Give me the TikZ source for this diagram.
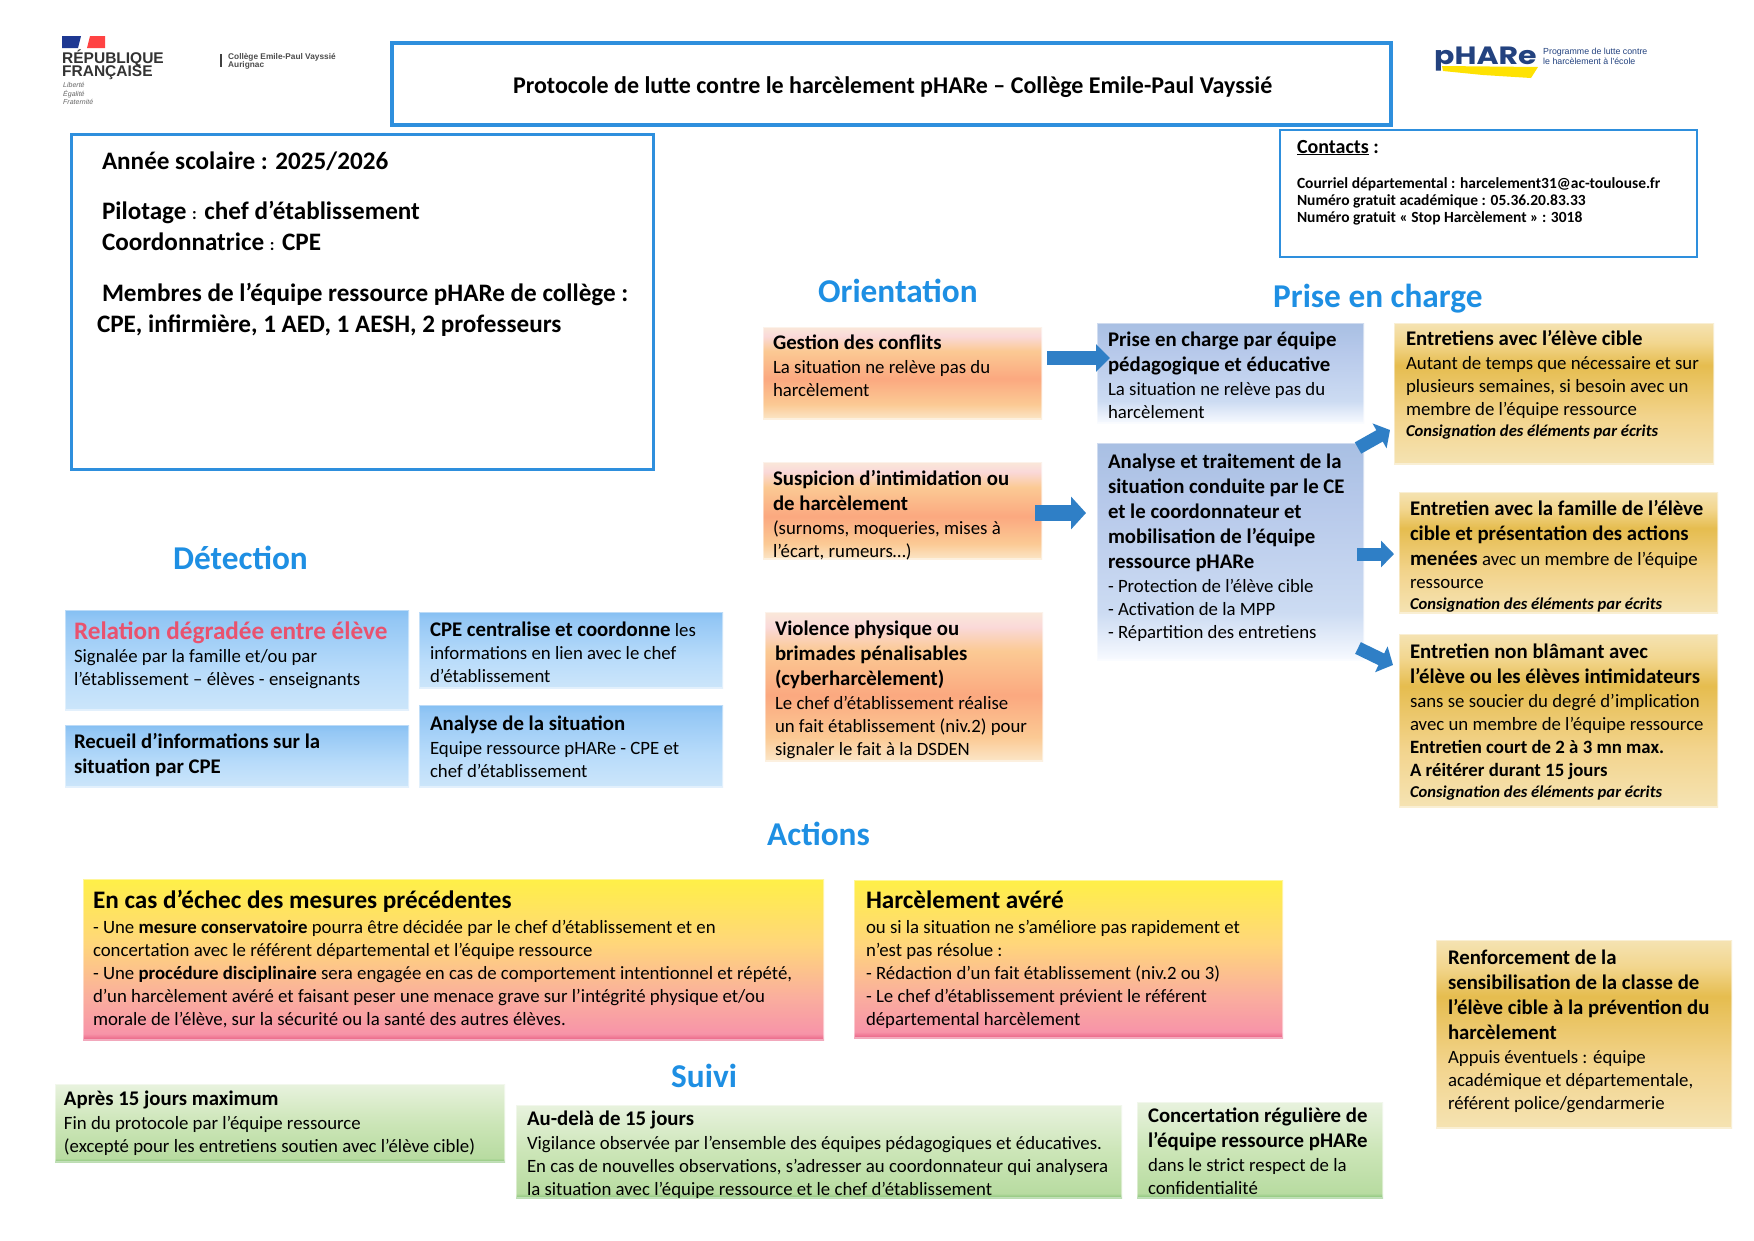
\documentclass[tikz,border=0pt]{standalone}
\usepackage{fontspec}
\setmainfont{Carlito}
\newfontfamily\lib{Liberation Sans}
\newfontfamily\pop{Poppins}
\usetikzlibrary{arrows.meta}
\definecolor{bdblue}{HTML}{2E8FDD}
\definecolor{sect}{HTML}{1E8FE3}
\definecolor{arrowblue}{HTML}{2F7FC6}
\definecolor{navy}{HTML}{23427F}
\definecolor{relred}{HTML}{E9526E}
\pgfdeclareverticalshading{orangeS}{100bp}{
 color(0bp)=(white);
 rgb(25bp)=(0.985,0.90,0.78);
 rgb(33bp)=(0.985,0.79,0.58);
 rgb(47bp)=(0.985,0.66,0.50);
 rgb(62bp)=(0.985,0.79,0.58);
 rgb(70bp)=(0.98,0.85,0.85);
 rgb(75bp)=(0.98,0.91,0.85);
 rgb(100bp)=(0.98,0.91,0.85)}
\pgfdeclareverticalshading{blueS}{100bp}{
 rgb(0bp)=(0.80,0.90,0.98);
 rgb(25bp)=(0.80,0.90,0.98);
 rgb(45bp)=(0.72,0.86,0.98);
 rgb(70bp)=(0.58,0.78,0.96);
 rgb(75bp)=(0.52,0.75,0.95);
 rgb(100bp)=(0.52,0.75,0.95)}
\pgfdeclareverticalshading{periS}{100bp}{
 rgb(0bp)=(1,1,1);
 rgb(25bp)=(0.97,0.98,1);
 rgb(36bp)=(0.80,0.86,0.95);
 rgb(60bp)=(0.72,0.79,0.92);
 rgb(75bp)=(0.66,0.75,0.89);
 rgb(100bp)=(0.66,0.75,0.89)}
\pgfdeclareverticalshading{goldS}{100bp}{
 rgb(0bp)=(0.96,0.89,0.70);
 rgb(25bp)=(0.96,0.89,0.70);
 rgb(42bp)=(0.95,0.83,0.55);
 rgb(60bp)=(0.90,0.74,0.31);
 rgb(68bp)=(0.95,0.84,0.56);
 rgb(75bp)=(0.96,0.89,0.70);
 rgb(100bp)=(0.96,0.89,0.70)}
\pgfdeclareverticalshading{alertS}{100bp}{
 rgb(0bp)=(0.91,0.38,0.52);
 rgb(25bp)=(0.91,0.38,0.52);
 rgb(27bp)=(0.97,0.58,0.66);
 rgb(38bp)=(0.98,0.68,0.62);
 rgb(55bp)=(1,0.84,0.48);
 rgb(75bp)=(1,0.94,0.28);
 rgb(100bp)=(1,0.94,0.28)}
\pgfdeclareverticalshading{greenS}{100bp}{
 rgb(0bp)=(0.52,0.76,0.46);
 rgb(25bp)=(0.52,0.76,0.46);
 rgb(27.5bp)=(0.72,0.86,0.63);
 rgb(50bp)=(0.80,0.90,0.72);
 rgb(75bp)=(0.91,0.95,0.87);
 rgb(100bp)=(0.91,0.95,0.87)}
\newcommand\hdsz{\fontsize{20.8}{25.2}\selectfont\bfseries}
\newcommand\txsz{\fontsize{18.8}{23}\selectfont\mdseries}
\newcommand\hd[1]{{\hdsz #1\par}\vspace{1pt}}
\newcommand\tx[1]{{\txsz #1\par}}
\newcommand\cns[1]{{\fontsize{16.6}{21}\selectfont\bfseries\itshape #1\par}}
\newcommand\bigh[1]{{\fontsize{25.2}{25}\selectfont\bfseries #1\par}\vspace{2pt}}
% name, style, x1, y1, x2, y2, left pad, first baseline, content
\newcommand\gbox[9]{%
 \pgfmathsetmacro\bw{#5-#3}\pgfmathsetmacro\bh{#6-#4}%
 \node[#2,anchor=north west,inner sep=0pt,outer sep=0pt] (#1) at (#3,#4) {%
  \parbox[c][\bh pt][t]{\bw pt}{\raggedright\leftskip=#7pt\parindent=0pt\def\FL{\rule{0pt}{#8pt}}#9}};}
\tikzset{
 soft/.style={draw=white,draw opacity=.45,line width=2pt},
 orangebox/.style={soft,shading=orangeS},
 bluebox/.style={soft,shading=blueS},
 peribox/.style={soft,shading=periS},
 goldbox/.style={soft,shading=goldS},
 alertbox/.style={soft,shading=alertS},
 greenbox/.style={soft,shading=greenS},
 framea/.style={draw=bdblue,line width=3.6pt},
 frameb/.style={draw=bdblue,line width=3pt},
 framec/.style={draw=bdblue,line width=2pt},
 secttitle/.style={anchor=base west,inner sep=0pt,text=sect,font=\fontsize{33.3}{38}\selectfont\bfseries},
 blockarrow/.style={arrowblue,line width=#1},
 blockarrow/.default=14pt,
 logotext/.style={anchor=base west,inner sep=0pt,align=left},
}
\begin{document}
\begin{tikzpicture}[x=1pt,y=-1pt]
\useasboundingbox (0,0) rectangle (1754,1240);
\fill[white] (0,0) rectangle (1754,1240);
% logo RF
\fill[navy!85!blue] (62,36) -- (81,36) -- (78,48) -- (62,48) -- cycle;
\fill[red!65!pink] (90,36) -- (105,36) -- (105,48) -- (87,48) -- cycle;
\node[logotext,font=\lib\fontsize{15.5}{15}\selectfont\bfseries,text=black!80] (rf1) at (62,63) {RÉPUBLIQUE};
\node[logotext,font=\lib\fontsize{15.5}{15}\selectfont\bfseries,text=black!80] (rf2) at (62,76) {FRANÇAISE};
\node[logotext,font=\lib\fontsize{7}{7}\selectfont\itshape,text=black!60] (rf3) at (63,87) {Liberté};
\node[logotext,font=\lib\fontsize{7}{7}\selectfont\itshape,text=black!60] (rf4) at (63,96) {Égalité};
\node[logotext,font=\lib\fontsize{7}{7}\selectfont\itshape,text=black!60] (rf5) at (63,104) {Fraternité};
\draw[black!75,line width=1.2pt] (221,54) -- (221,67);
\node[logotext,font=\lib\fontsize{8.3}{8}\selectfont\bfseries,text=black!70] (col1) at (228,59) {Collège Emile-Paul Vayssié};
\node[logotext,font=\lib\fontsize{8.3}{8}\selectfont\bfseries,text=black!70] (col2) at (228,67) {Aurignac};
% logo pHARe
\fill[yellow!85!orange] (1442,66) -- (1538,67) -- (1531,78) -- (1483,75) -- (1443,71) -- cycle;
\node[logotext,font=\pop\fontsize{25}{25}\selectfont\bfseries,text=navy] (phare) at (1434,64) {\scalebox{1.2}[1]{pHARe}};
\node[logotext,font=\lib\fontsize{8.8}{8.8}\selectfont,text=navy] (ph1) at (1543,54) {Programme de lutte contre};
\node[logotext,font=\lib\fontsize{8.8}{8.8}\selectfont,text=navy] (ph2) at (1543,64) {le harcèlement à l'école};
% frames
\gbox{titlebox}{framea}{392}{43}{1391}{125}{121}{50}{{\fontsize{24}{26}\selectfont\bfseries\FL Protocole de lutte contre le harcèlement pHARe – Collège Emile-Paul Vayssié\par}}
\gbox{infobox}{frameb}{71}{134}{653}{469}{31}{35}{\fontsize{25.15}{31}\selectfont\bfseries
 \FL Année scolaire : 2025/2026\par\vspace{19pt}
 Pilotage {\fontsize{17}{31}\selectfont:} chef d’établissement\par
 Coordonnatrice {\fontsize{17}{31}\selectfont:} CPE\par\vspace{20pt}
 Membres de l’équipe ressource pHARe de collège :\par
 \hspace*{-5pt}CPE, infirmière, 1 AED, 1 AESH, 2 professeurs\par}
\gbox{contacts}{framec}{1280}{130}{1697}{257}{17}{23}{%
 {\fontsize{20}{20}\selectfont\bfseries\FL\underline{Contacts} :\par}\vspace{18pt}
 {\fontsize{15.5}{17}\selectfont\bfseries Courriel départemental : harcelement31@ac-toulouse.fr\\
 Numéro gratuit académique : 05.36.20.83.33\\
 Numéro gratuit « Stop Harcèlement » : 3018\par}}
% section titles
\node[secttitle] (sDet) at (173,569) {Détection};
\node[secttitle] (sOri) at (818,302) {Orientation};
\node[secttitle] (sPri) at (1273,307) {Prise en charge};
\node[secttitle] (sAct) at (767,845) {Actions};
\node[secttitle] (sSui) at (671,1087) {Suivi};
% detection
\gbox{relation}{bluebox}{65}{610}{409}{710}{9}{29}{{\fontsize{25.2}{25}\selectfont\bfseries\color{relred}\FL Relation dégradée entre élève\par}\tx{Signalée par la famille et/ou par\\ l’établissement – élèves - enseignants}}
\gbox{recueil}{bluebox}{65}{725}{409}{787}{9}{23}{\hd{\FL Recueil d’informations sur la\\ situation par CPE}}
\gbox{centralise}{bluebox}{419}{612}{723}{688}{11}{24}{\tx{\FL{\hdsz CPE centralise et coordonne} les\\ informations en lien avec le chef\\ d’établissement}}
\gbox{analysesit}{bluebox}{419}{705}{723}{787}{11}{25}{\hd{\FL Analyse de la situation}\tx{Equipe ressource pHARe - CPE et\\ chef d’établissement}}
% orientation
\gbox{gestion}{orangebox}{763}{327}{1042}{419}{10}{22}{\hd{\FL Gestion des conflits}\tx{La situation ne relève pas du\\ harcèlement}}
\gbox{suspicion}{orangebox}{763}{462}{1042}{559}{10}{23}{\hd{\FL Suspicion d’intimidation ou\\ de harcèlement}\tx{(surnoms, moqueries, mises à\\ l’écart, rumeurs…)}}
\gbox{violence}{orangebox}{765}{612}{1043}{761}{10}{23}{\hd{\FL Violence physique ou\\ brimades pénalisables\\ (cyberharcèlement)}\tx{Le chef d’établissement réalise\\ un fait établissement (niv.2) pour\\ signaler le fait à la DSDEN}}
% prise en charge
\gbox{prise}{peribox}{1097}{323}{1364}{423}{11}{23}{\hd{\FL Prise en charge par équipe\\ pédagogique et éducative}\tx{La situation ne relève pas du\\ harcèlement}}
\gbox{analyse}{peribox}{1097}{443}{1364}{660}{11}{25}{\hd{\FL Analyse et traitement de la\\ situation conduite par le CE\\ et le coordonnateur et\\ mobilisation de l’équipe\\ ressource pHARe}\tx{- Protection de l’élève cible\\ - Activation de la MPP\\ - Répartition des entretiens}}
\gbox{cible}{goldbox}{1394}{323}{1714}{464}{12}{22}{\hd{\FL Entretiens avec l’élève cible}\tx{Autant de temps que nécessaire et sur\\ plusieurs semaines, si besoin avec un\\ membre de l’équipe ressource}\cns{Consignation des éléments par écrits}}
\gbox{famille}{goldbox}{1399}{492}{1718}{613}{11}{23}{\hd{\FL Entretien avec la famille de l’élève\\ cible et présentation des actions}\vspace{1pt}\tx{{\hdsz menées} avec un membre de l’équipe\\ ressource}\cns{Consignation des éléments par écrits}}
\gbox{blamant}{goldbox}{1399}{634}{1718}{807}{11}{24}{\hd{\FL Entretien non blâmant avec\\ l’élève ou les élèves intimidateurs}\tx{sans se soucier du degré d’implication\\ avec un membre de l’équipe ressource\\ \textbf{Entretien court de 2 à 3 mn max.}\\ \textbf{A réitérer durant 15 jours}}\cns{Consignation des éléments par écrits}}
% actions
\gbox{echec}{alertbox}{83}{879}{824}{1040}{10}{29}{\bigh{\FL En cas d’échec des mesures précédentes}\tx{- Une \textbf{mesure conservatoire} pourra être décidée par le chef d’établissement et en\\ concertation avec le référent départemental et l’équipe ressource\\ - Une \textbf{procédure disciplinaire} sera engagée en cas de comportement intentionnel et répété,\\ d’un harcèlement avéré et faisant peser une menace grave sur l’intégrité physique et/ou\\ morale de l’élève, sur la sécurité ou la santé des autres élèves.}}
\gbox{avere}{alertbox}{854}{880}{1283}{1038}{12}{28}{\bigh{\FL Harcèlement avéré}\tx{ou si la situation ne s’améliore pas rapidement et\\ n’est pas résolue :\\ - Rédaction d’un fait établissement (niv.2 ou 3)\\ - Le chef d’établissement prévient le référent\\ départemental harcèlement}}
\gbox{renfort}{goldbox}{1436}{940}{1732}{1128}{12}{24}{\hd{\FL Renforcement de la\\ sensibilisation de la classe de\\ l’élève cible à la prévention du\\ harcèlement}\tx{Appuis éventuels : équipe\\ académique et départementale,\\ référent police/gendarmerie}}
% suivi
\gbox{apres}{greenbox}{55}{1084}{505}{1162}{9}{21}{\hd{\FL Après 15 jours maximum}\tx{Fin du protocole par l’équipe ressource\\ (excepté pour les entretiens soutien avec l’élève cible)}}
\gbox{audela}{greenbox}{516}{1105}{1122}{1198}{11}{20}{\hd{\FL Au-delà de 15 jours}\tx{Vigilance observée par l’ensemble des équipes pédagogiques et éducatives.\\ En cas de nouvelles observations, s’adresser au coordonnateur qui analysera\\ la situation avec l’équipe ressource et le chef d’établissement}}
\gbox{concert}{greenbox}{1137}{1102}{1383}{1198}{11}{20}{\hd{\FL Concertation régulière de\\ l’équipe ressource pHARe}\tx{dans le strict respect de la\\ confidentialité}}
% arrows
\draw[-{Triangle[length=14pt,width=27pt]},blockarrow=14pt] ([shift={(5,-15)}]gestion.east) -- ([shift={(13,-15)}]prise.west);
\draw[-{Triangle[length=15pt,width=32pt]},blockarrow=16pt] ([shift={(-7,2.5)}]suspicion.east) -- ([shift={(-11,-38.5)}]analyse.west);
\draw[-{Triangle[length=12pt,width=28pt]},blockarrow=13pt] ([shift={(-6,-103.5)}]analyse.east) -- ([shift={(-4,36.5)}]cible.west);
\draw[-{Triangle[length=13pt,width=26pt]},blockarrow=13pt] ([shift={(-7,2.5)}]analyse.east) -- ([shift={(-5,1.5)}]famille.west);
\draw[-{Triangle[length=13pt,width=28pt]},blockarrow=13pt] ([shift={(-6,96.5)}]analyse.east) -- ([shift={(-6,-55.5)}]blamant.west);
\end{tikzpicture}
\end{document}
